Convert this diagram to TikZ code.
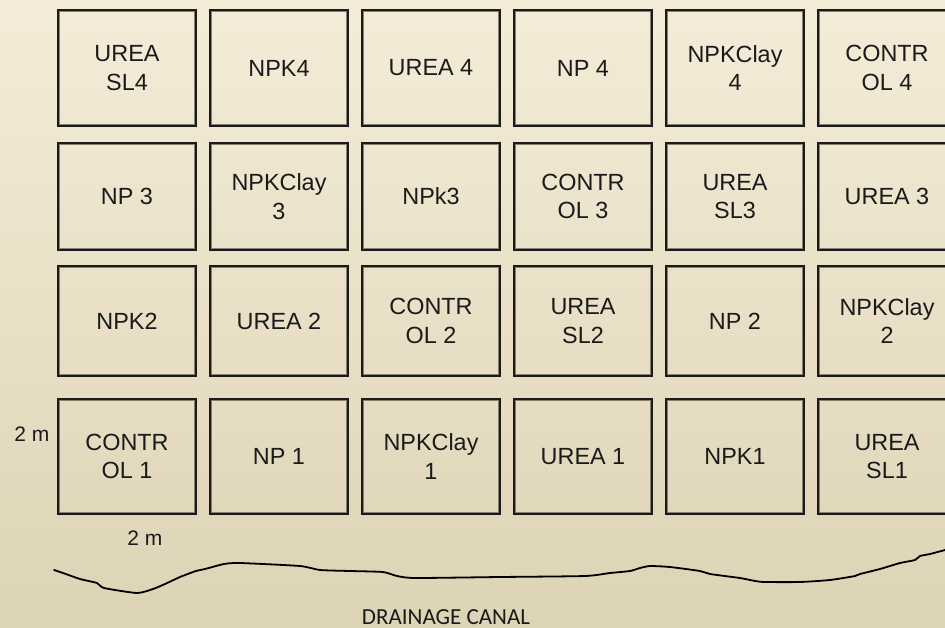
\documentclass[tikz,border=0pt]{standalone}
\usepackage{fontspec}
\setmainfont{Liberation Sans}
\newfontfamily\canalfont{Carlito}
\definecolor{bgtop}{HTML}{F4ECD8}
\definecolor{bgbot}{HTML}{DDD3B5}
\definecolor{edge}{HTML}{1A1A1A}
\definecolor{bevel}{HTML}{858070}
\tikzset{
  plotbox/.style={draw=edge, line width=3.4pt, minimum width=136.6pt,
    inner sep=0pt, align=center, text=edge, font=\fontsize{23.4}{28.7}\selectfont},
  bevelline/.style={draw=bevel, line width=1.3pt},
  dimlabel/.style={anchor=base, text=edge, font=\fontsize{21}{24}\selectfont},
  canal/.style={draw=black, line width=1.8pt, line cap=round, line join=round},
}
\begin{document}
\begin{tikzpicture}[x=1pt,y=-1pt]
\useasboundingbox (0,0) rectangle (945,627);
\clip (0,0) rectangle (945,627);
\shade[top color=bgtop, bottom color=bgbot] (0,0) rectangle (945,627);
% grid of plots: rows top to bottom (centre y / height), columns left to right
\foreach \r/\cy/\h/\labels in {
  0/68/118/{{UREA\\SL4},{NPK4},{UREA 4},{NP 4},{NPKClay\\4},{CONTR\\OL 4}},
  1/196.5/109/{{NP 3},{NPKClay\\3},{NPk3},{CONTR\\OL 3},{UREA\\SL3},{UREA 3}},
  2/321/112/{{NPK2},{UREA 2},{CONTR\\OL 2},{UREA\\SL2},{NP 2},{NPKClay\\2}},
  3/456.5/117/{{CONTR\\OL 1},{NP 1},{NPKClay\\1},{UREA 1},{NPK1},{UREA\\SL1}}}{
  \foreach \txt [count=\c from 0] in \labels {
    \pgfmathsetmacro{\cx}{127+152*\c}
    \pgfmathsetmacro{\hh}{\h-3.4}
    \node[plotbox, minimum height=\hh pt] (p\r-\c) at (\cx,\cy) {\txt};
    \draw[bevelline] ([shift={(2.4,2.4)}]p\r-\c.north west) rectangle ([shift={(-2.4,-2.4)}]p\r-\c.south east);
  }
}
% dimension labels
\node[dimlabel] (dimv) at (32,441) {2 m};
\node[dimlabel] (dimh) at (145,545.5) {2 m};
% drainage canal bank
\draw[canal] plot[smooth, tension=0.35] coordinates {
 (54,570) (63,573) (80,579) (97,583) (104,588) (137,593) (153,589) (165,584)
 (180,577) (196,571) (205,569) (224,564) (240,563) (300,566) (320,570) (350,571)
 (383,572) (397,576) (415,578) (500,577) (585,576) (610,573) (630,571) (640,568)
 (650,566) (670,567) (700,571) (710,574) (740,578) (755,581) (765,582) (800,582)
 (830,580) (855,576) (860,574) (880,569) (900,563) (915,560) (920,556) (930,554)
 (945,550)};
\node[anchor=base, inner sep=0pt, text=edge, font=\canalfont\fontsize{23}{26}\selectfont] (canallabel) at (446,624) {DRAINAGE CANAL};
\end{tikzpicture}
\end{document}
